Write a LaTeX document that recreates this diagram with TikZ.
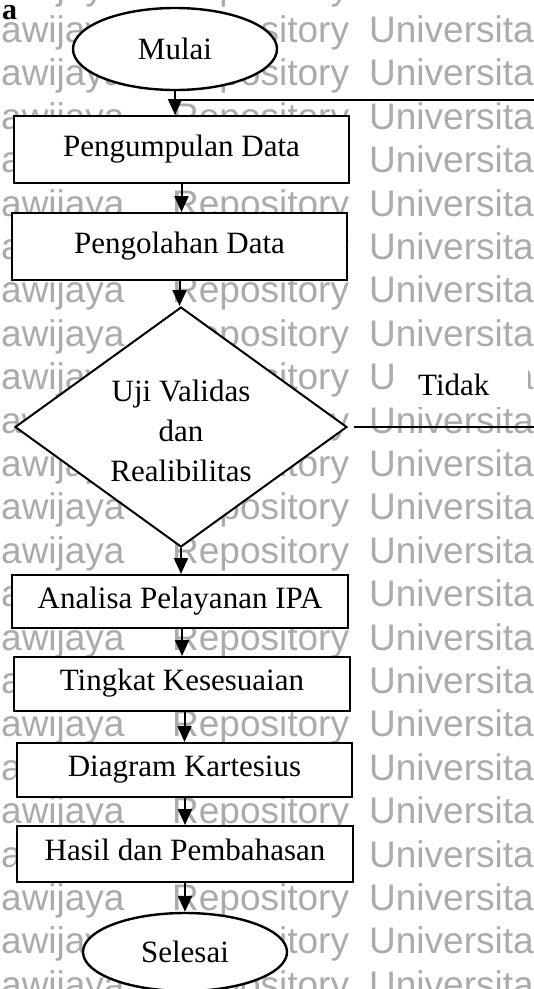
\documentclass[tikz,border=0pt]{standalone}
\usepackage{fontspec}
\setmainfont{Liberation Serif}
\newfontfamily\wmfont{Liberation Sans}
\usetikzlibrary{shapes.geometric,arrows.meta,calc}

\begin{document}
\begin{tikzpicture}[x=1pt,y=-1pt,
  every node/.style={inner sep=0pt},
  lbl/.style={font=\fontsize{31}{40}\selectfont},
  procbox/.style={lbl, draw, line width=2pt, fill=white, text height=21.7pt, text depth=7.75pt},
  terminal/.style={lbl, draw, ellipse, line width=2.4pt, fill=white, minimum width=204pt, text height=25pt, text depth=5pt},
  decision/.style={draw, diamond, line width=2pt, fill=white, minimum width=332pt, minimum height=240pt},
  flow/.style={line width=2pt, -{Triangle[length=16pt,width=14pt]}},
  back/.style={line width=1.3pt},
  wm/.style={font=\wmfont\fontsize{37}{40}\selectfont, text=black!33, anchor=base west},
]
\useasboundingbox (0,0) rectangle (534,989);
\clip (0,0) rectangle (534,989);
\fill[white] (0,0) rectangle (534,989);

% repository watermark, one row every 43.4pt
\foreach \k in {0,...,23}{
  \pgfmathsetmacro\yb{43.4*\k-1}
  \node[wm] (wa\k) at (1,\yb) {awijaya};
  \node[wm] (wb\k) at (172,\yb) {Repository};
  \node[wm] (wc\k) at (369,\yb) {Universita};
}

% figure letter
\node[font=\bfseries\fontsize{30}{30}\selectfont, anchor=base west] (fig) at (2,19) {a};

% flowchart blocks
\node[terminal, minimum height=82pt] (mulai) at (175,49) {Mulai};
\node[procbox, minimum width=335pt, minimum height=67pt] (kumpul) at (181.5,149.5) {Pengumpulan Data};
\node[procbox, minimum width=335pt, minimum height=67pt] (olah) at (179.5,246.5) {Pengolahan Data};
\node[decision] (uji) at (181,427) {};
\node[lbl, align=center] (ujitext) at (181,431) {Uji Validas\\dan\\Realibilitas};
\node[procbox, minimum width=336pt, minimum height=53pt] (ipa) at (180,601.5) {Analisa Pelayanan IPA};
\node[procbox, minimum width=336pt, minimum height=54pt] (tingkat) at (182,684) {Tingkat Kesesuaian};
\node[procbox, minimum width=335pt, minimum height=54pt] (kartesius) at (184.5,770) {Diagram Kartesius};
\node[procbox, minimum width=336pt, minimum height=56pt] (hasil) at (185,854) {Hasil dan Pembahasan};
\node[terminal, minimum height=78pt] (selesai) at (185,952) {Selesai};

% label of the loop back
\node[lbl, fill=white, anchor=base west, text width=133pt, align=left,
      text height=40pt, text depth=12pt] (tidak) at (395,395) {\hspace*{23pt}Tidak};

% loop back to data collection
\coordinate (join) at (mulai.south |- 0,100);
\coordinate (outlow) at (560,428);
\coordinate (outhigh) at (560,100);
\draw[back, shorten <=6pt] (uji.east) -- (outlow |- uji.east) -- (outhigh) -- (join);

% main flow
\draw[flow] (mulai.south) -- (mulai.south |- kumpul.north);
\draw[flow] (kumpul.south) -- (kumpul.south |- olah.north);
\draw[flow] (olah.south) -- (olah.south |- uji.north);
\draw[flow] (uji.south) -- (uji.south |- ipa.north);
\draw[flow] (tingkat.north |- ipa.south) -- (tingkat.north);
\draw[flow] (kartesius.north |- tingkat.south) -- (kartesius.north);
\draw[flow] (hasil.north |- kartesius.south) -- (hasil.north);
\draw[flow] (hasil.south) -- (hasil.south |- selesai.north);
\end{tikzpicture}
\end{document}
